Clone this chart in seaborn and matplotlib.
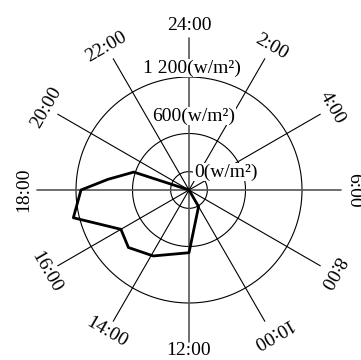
import numpy as np
import matplotlib
matplotlib.use("Agg")
import matplotlib.pyplot as plt
import seaborn as sns

# Irradiance polygon (hour of day, w/m2)
hours = [9, 10, 12, 13.9, 15.1, 16, 17.1, 18, 18.5, 19.2, 20]
irradiance = [0, 203, 666, 797, 887, 835, 1263, 1147, 868, 616, 0]

# Rings and their labels
ring_values = [195, 600, 1200]
ring_labels = ["0(w/m²)", "600(w/m²)", "1 200(w/m²)"]

# Hour spokes
tick_hours = [0, 2, 4, 6, 8, 10, 12, 14, 16, 18, 20, 22]
tick_labels = ["24:00", "2:00", "4:00", "6:00", "8:00", "10:00",
               "12:00", "14:00", "16:00", "18:00", "20:00", "22:00"]

sns.set_style("white")
plt.rcParams['font.family'] = ['Liberation Serif', 'DejaVu Serif']

fig = plt.figure(figsize=(3.61, 3.60), dpi=100)
ax = fig.add_axes([0.05402, 0.00139, 0.9391, 0.9417], projection='polar')
ax.set_theta_zero_location('N')
ax.set_theta_direction(-1)
ax.set_ylim(0, 1800)
ax.set_axis_off()

def h2rad(h):
    return np.deg2rad(np.asarray(h, dtype=float) * 15)

# rings
circle_t = np.linspace(0, 2 * np.pi, 400)
for v in ring_values:
    ax.plot(circle_t, np.full_like(circle_t, v), color='black', lw=0.8, zorder=1)

# spokes
spoke_len = 1610
for h in tick_hours:
    t = h2rad(h)
    if h % 6 == 0:
        ax.plot([t, t], [0, spoke_len], color='#555555', lw=1.2, zorder=1)
    else:
        ax.plot([t, t], [0, spoke_len], color='black', lw=0.8, zorder=1)

# hour labels, rotated along the circle
for h, lab in zip(tick_hours, tick_labels):
    ang = h * 15
    if ang < 180:
        rot = -ang
    elif ang < 270:
        rot = 180 - ang
    else:
        rot = 360 - ang
    if ang == 180:
        rot = 0
    label_r = 1700 if ang == 180 else 1750
    ax.text(h2rad(h), label_r, lab, rotation=rot, rotation_mode='anchor',
            ha='center', va='center', fontsize=14, color='black')

# ring labels with white background
ring_pos = [(np.deg2rad(64), 437), (np.deg2rad(3.9), 788), (np.deg2rad(1.4), 1296)]
for (t, r), lab in zip(ring_pos, ring_labels):
    ax.text(t, r, lab, ha='center', va='center', fontsize=14, color='black',
            bbox=dict(facecolor='white', edgecolor='none', pad=0.5), zorder=3)

# irradiance polygon
sns.lineplot(x=h2rad(hours), y=irradiance, ax=ax, sort=False, estimator=None,
             color='black', lw=2.0, zorder=4)

fig.savefig('out.png', dpi=100)
